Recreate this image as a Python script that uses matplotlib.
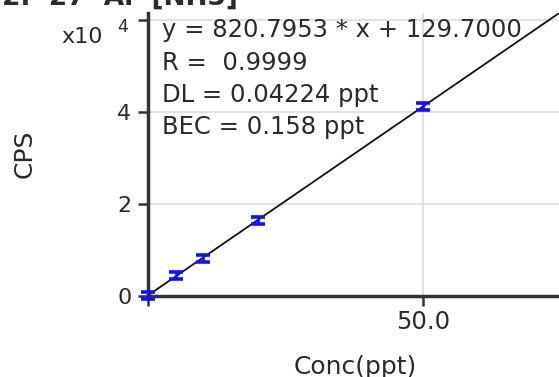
import matplotlib.pyplot as plt
import numpy as np

# calibration standards (ppt) and measured counts
conc = [0.0, 5.0, 10.0, 20.0, 50.0]
cps = [150, 4450, 8100, 16400, 41150]
cps_err = [800, 800, 800, 800, 800]

slope = 820.7953
intercept = 129.7000
fit_lines = ["y = 820.7953 * x + 129.7000", "R =  0.9999",
             "DL = 0.04224 ppt", "BEC = 0.158 ppt"]
title = "2.  27  Al  [NH3]"

W, H = 559, 377
plt.rcParams['font.family'] = ['DejaVu Sans']
txt_color = '#2a2a2a'

fig = plt.figure(figsize=(W / 100, H / 100), dpi=100)
# axes: y-axis at x=148 px, x-axis at y=296 px, runs off the right edge
ax = fig.add_axes([148 / W, 1 - 296 / H, 1 - 148 / W, (296 - 13) / H])

xlim = (0, (W - 148) / 5.5)
ax.set_xlim(*xlim)
ax.set_ylim(0, 6.15e4)

# fit line
xs = np.array(xlim)
ax.plot(xs, slope * xs + intercept, color='#111111', lw=1.3, zorder=3)

# standards
ax.errorbar(conc, cps, yerr=cps_err, fmt='none', ecolor='#1010ff', elinewidth=2,
            capsize=5, capthick=2.6, zorder=4, clip_on=False)

ax.set_xticks([0, 50])
ax.set_xticklabels(['', '50.0'], fontsize=17.5)
ax.set_yticks([0, 2e4, 4e4, 6e4])
ax.set_yticklabels(['0', '2', '4', ''], fontsize=16)
ax.tick_params(direction='out', length=7, width=1.8, colors='#333333',
               labelcolor=txt_color)
ax.tick_params(axis='y', pad=5)
ax.tick_params(axis='x', pad=3)
ax.grid(True, color='#dcdcdc', lw=1.2)
ax.set_axisbelow(True)

for side in ['top', 'right']:
    ax.spines[side].set_visible(False)
for side in ['left', 'bottom']:
    ax.spines[side].set_linewidth(2.5)
    ax.spines[side].set_color('#333333')

# axis multiplier
fig.text(82 / W, 1 - 37 / H, 'x10', fontsize=16, color=txt_color, ha='center', va='center')
fig.text(123 / W, 1 - 27 / H, '4', fontsize=12.5, color=txt_color, ha='center', va='center')

fig.text(355 / W, 1 - 374 / H, 'Conc(ppt)', fontsize=18, color=txt_color,
         ha='center', va='baseline')
fig.text(25 / W, 1 - 154 / H, 'CPS', fontsize=18, color=txt_color,
         ha='center', va='center', rotation=90)

# regression summary
baselines = [37, 70, 102, 134]
for line, yb in zip(fit_lines, baselines):
    fig.text(162 / W, 1 - yb / H, line, fontsize=17.5, color=txt_color,
             ha='left', va='baseline', zorder=5)

# title, mostly cut off at the top edge as in the source screenshot
fig.text(2 / W, 1 - 5 / H, title, fontsize=19, fontweight='bold', color=txt_color,
         ha='left', va='baseline')

fig.savefig('out.png', dpi=100)
